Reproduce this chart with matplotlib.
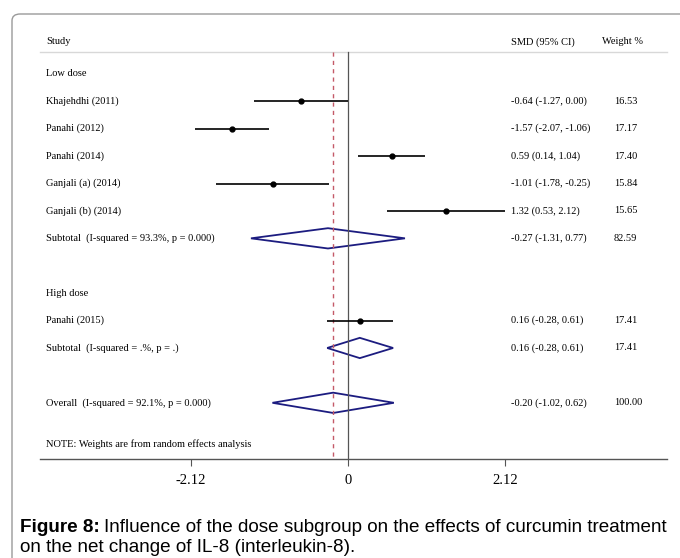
import matplotlib
matplotlib.use("Agg")
import matplotlib.pyplot as plt
from matplotlib.patches import Polygon, FancyBboxPatch
import matplotlib.transforms as mtransforms

# ---- data ----
row_labels = ["Low dose", "Khajehdhi (2011)", "Panahi (2012)", "Panahi (2014)",
              "Ganjali (a) (2014)", "Ganjali (b) (2014)",
              "Subtotal  (I-squared = 93.3%, p = 0.000)", "",
              "High dose", "Panahi (2015)", "Subtotal  (I-squared = .%, p = .)", "",
              "Overall  (I-squared = 92.1%, p = 0.000)"]
row_kind = ["head", "study", "study", "study", "study", "study", "sub", "blank",
            "head", "study", "sub", "blank", "sub"]
smd = [None, -0.64, -1.57, 0.59, -1.01, 1.32, -0.27, None, None, 0.16, 0.16, None, -0.20]
lo = [None, -1.27, -2.07, 0.14, -1.78, 0.53, -1.31, None, None, -0.28, -0.28, None, -1.02]
hi = [None, 0.00, -1.06, 1.04, -0.25, 2.12, 0.77, None, None, 0.61, 0.61, None, 0.62]
weights = [None, "16.53", "17.17", "17.40", "15.84", "15.65", "82.59", None, None,
           "17.41", "17.41", None, "100.00"]
overall_smd = -0.20
xticks = [-2.12, 0, 2.12]
xticklabels = ["-2.12", "0", "2.12"]
note = "NOTE: Weights are from random effects analysis"

W, H = 680, 558
fig = plt.figure(figsize=(W / 100, H / 100), dpi=100)

# rounded panel frame
frame = FancyBboxPatch((12 / W, (H - 14 - 600) / H), 700 / W, 600 / H,
                       boxstyle="round,pad=0,rounding_size=0.012",
                       transform=fig.transFigure, facecolor="none",
                       edgecolor="#9a9a9a", linewidth=1.0, zorder=-1)
fig.patches.append(frame)

ax_left, ax_right, ax_top, ax_bot = 40, 667, 30, 459
ax = fig.add_axes([ax_left / W, (H - ax_bot) / H, (ax_right - ax_left) / W,
                   (ax_bot - ax_top) / H])
ax.set_facecolor("none")
ax.set_xlim(-4.16, 4.31)
ax.set_ylim(14.05, -1.6)

serif = "Liberation Serif"
fs = 7.5
navy = "#1c1c80"
red = "#c45a68"

blend = mtransforms.blended_transform_factory(ax.transAxes, ax.transData)
header_y = -1.17
line_y = -0.8

ax.text(0.0096, header_y, "Study", transform=blend, fontsize=fs, family=serif,
        va="center", ha="left")
ax.text(0.751, header_y, "SMD (95% CI)", transform=blend, fontsize=fs, family=serif,
        va="center", ha="left")
ax.text(0.896, header_y, "Weight %", transform=blend, fontsize=fs, family=serif,
        va="center", ha="left")
ax.plot([0, 1], [line_y, line_y], transform=blend, color="#d8d8d8", lw=1.0,
        clip_on=False)

# reference lines
ax.plot([0, 0], [line_y, 14.05], color="#555555", lw=0.9)
ax.plot([overall_smd, overall_smd], [line_y, 14.05], color=red, lw=1.0,
        dashes=(3, 3))

half_h = 0.37
for i, (lab, kind) in enumerate(zip(row_labels, row_kind)):
    if lab:
        ax.text(0.0096, i, lab, transform=blend, fontsize=fs, family=serif,
                va="center", ha="left")
    if kind == "study":
        ax.plot([lo[i], hi[i]], [i, i], color="black", lw=1.2, solid_capstyle="butt")
        ax.plot(smd[i], i, marker="o", ms=3.5, color="black")
    elif kind == "sub":
        pts = [(lo[i], i), (smd[i], i - half_h), (hi[i], i), (smd[i], i + half_h)]
        ax.add_patch(Polygon(pts, closed=True, fill=False, edgecolor=navy, lw=1.3))
    if smd[i] is not None:
        ax.text(0.751, i, f"{smd[i]:.2f} ({lo[i]:.2f}, {hi[i]:.2f})", transform=blend,
                fontsize=fs, family=serif, va="center", ha="left")
        ax.text(0.915, i, weights[i], transform=blend, fontsize=fs, family=serif,
                va="center", ha="left")

ax.text(0.0096, 13.5, note, transform=blend, fontsize=fs, family=serif,
        va="center", ha="left")

for s in ["top", "left", "right"]:
    ax.spines[s].set_visible(False)
ax.spines["bottom"].set_color("#555555")
ax.spines["bottom"].set_linewidth(1.0)
ax.set_yticks([])
ax.set_xticks(xticks)
ax.set_xticklabels(xticklabels, fontsize=10.5, family=serif)
ax.tick_params(axis="x", direction="out", length=5, width=0.8, pad=6, color="#555555")

# caption
cap_fs = 13.6
bold = fig.text(20 / W, 1 - 527 / H, "Figure 8:", fontsize=cap_fs,
                family="Liberation Sans", weight="bold", va="center", ha="left")
fig.canvas.draw()
bb = bold.get_window_extent()
fig.text(bb.x1 / W + 4 / W, 1 - 527 / H,
         "Influence of the dose subgroup on the effects of curcumin treatment",
         fontsize=cap_fs, family="Liberation Sans", va="center", ha="left")
fig.text(20 / W, 1 - 547 / H, "on the net change of IL-8 (interleukin-8).",
         fontsize=cap_fs, family="Liberation Sans", va="center", ha="left")

fig.savefig("out.png", dpi=100)
